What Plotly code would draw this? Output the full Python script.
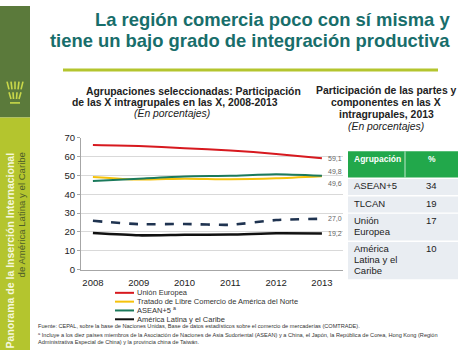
import plotly.graph_objects as go

W, H = 474, 355
FONT = "Liberation Sans, Arial, sans-serif"

# ---------------- data ----------------
years = [2008, 2009, 2010, 2011, 2012, 2013]
union_europea = [66.2, 65.7, 64.5, 63.3, 61.4, 59.1]
tlcan = [49.2, 47.8, 48.3, 48.0, 48.5, 49.6]
asean5 = [47.0, 48.3, 49.5, 49.8, 50.6, 49.8]
alc_dashed = [25.9, 24.1, 24.2, 23.8, 26.3, 27.0]
alc = [19.4, 18.2, 18.5, 18.6, 19.3, 19.2]

series_names = ["Unión Europea", "Tratado de Libre Comercio de América del Norte",
                "ASEAN+5 <sup>a</sup>", "", "América Latina y el Caribe"]
series_values = [union_europea, tlcan, asean5, alc_dashed, alc]
series_colors = ["#d7191f", "#f5c20c", "#1b7a5c", "#1f3350", "#111111"]
series_dash = ["solid", "solid", "solid", "dash", "solid"]
series_width = [2, 2, 2, 2.6, 2.6]
end_labels = ["59,1", "49,6", "49,8", "27,0", "19,2"]
end_label_shift = [0, -7, 4, 0, 0]
legend_order = [0, 1, 2, 4]

y_ticks = [0, 10, 20, 30, 40, 50, 60, 70]

table_header = ["Agrupación", "%"]
table_groups = ["ASEAN+5", "TLCAN", "Unión<br>Europea", "América<br>Latina y el<br>Caribe"]
table_pct = [34, 19, 17, 10]


def px_x(x):
    return x / W


def px_y(y):
    return 1 - y / H


fig = go.Figure()

for i, vals in enumerate(series_values):
    fig.add_trace(go.Scatter(
        x=years, y=vals, mode="lines", name=series_names[i] or "Serie",
        line=dict(color=series_colors[i], width=series_width[i],
                  dash=series_dash[i], shape="spline", smoothing=0.6),
        showlegend=False, hoverinfo="skip"))

annotations = []
shapes = []

# end-of-line labels
for i, vals in enumerate(series_values):
    annotations.append(dict(
        x=years[-1], y=vals[-1], xref="x", yref="y", text=end_labels[i],
        showarrow=False, xanchor="left", yanchor="middle", xshift=4,
        yshift=end_label_shift[i], font=dict(family=FONT, size=7, color="#666666")))

# sidebar
shapes.append(dict(type="rect", xref="paper", yref="paper", x0=0, x1=px_x(30),
                   y0=px_y(115), y1=1, fillcolor="#5b7a3b", line=dict(width=0), layer="below"))
shapes.append(dict(type="rect", xref="paper", yref="paper", x0=0, x1=px_x(30),
                   y0=0, y1=px_y(115), fillcolor="#b4c52e", line=dict(width=0), layer="below"))
# small wheat-like logo
for (xa, xb) in [(7, 9), (11, 12), (15, 15), (19, 18), (23, 21)]:
    shapes.append(dict(type="line", xref="paper", yref="paper",
                       x0=px_x(xa), y0=px_y(78), x1=px_x(xb), y1=px_y(86),
                       line=dict(color="#c9d84a", width=1.6)))
for (xa, xb) in [(9, 11), (13, 13.5), (17, 16.5), (21, 19)]:
    shapes.append(dict(type="line", xref="paper", yref="paper",
                       x0=px_x(xa), y0=px_y(89), x1=px_x(xb), y1=px_y(96),
                       line=dict(color="#c9d84a", width=1.6)))
shapes.append(dict(type="line", xref="paper", yref="paper",
                   x0=px_x(10), y0=px_y(100), x1=px_x(20), y1=px_y(100),
                   line=dict(color="#c9d84a", width=1.6)))
annotations.append(dict(x=px_x(10), y=px_y(149), xref="paper", yref="paper",
                        text="<b>Panorama de la Inserción Internacional</b>", textangle=-90,
                        showarrow=False, xanchor="center", yanchor="top",
                        font=dict(family=FONT, size=10.5, color="#f4f7dc")))
annotations.append(dict(x=px_x(21.5), y=px_y(149), xref="paper", yref="paper",
                        text="de América Latina y el Caribe", textangle=-90,
                        showarrow=False, xanchor="center", yanchor="top",
                        font=dict(family=FONT, size=9.6, color="#4f5f2a")))

# top rule
shapes.append(dict(type="line", xref="paper", yref="paper", x0=px_x(63), x1=px_x(438),
                   y0=px_y(66), y1=px_y(66), line=dict(color="#b4c52e", width=3)))

# main title
for txt, y in [("La región comercia poco con sí misma y", 14),
               ("tiene un bajo grado de integración productiva", 36)]:
    annotations.append(dict(x=px_x(452), y=px_y(y), xref="paper", yref="paper",
                            text=f"<b>{txt}</b>", showarrow=False, xanchor="right",
                            yanchor="middle", font=dict(family=FONT, size=18.4, color="#186e6b")))

# left chart title
for txt, x, y in [("<b>Agrupaciones seleccionadas: Participación</b>", 193, 88),
                  ("<b>de las X intragrupales en las X, 2008-2013</b>", 175, 100),
                  ("<i>(En porcentajes)</i>", 172, 111)]:
    annotations.append(dict(x=px_x(x), y=px_y(y), xref="paper", yref="paper", text=txt,
                            showarrow=False, xanchor="center", yanchor="middle",
                            font=dict(family=FONT, size=10.4, color="#222222")))

# right title
for txt, y in [("<b>Participación de las partes y</b>", 87),
               ("<b>componentes en las X</b>", 100),
               ("<b>intragrupales, 2013</b>", 112),
               ("<i>(En porcentajes)</i>", 124)]:
    annotations.append(dict(x=px_x(386), y=px_y(y), xref="paper", yref="paper", text=txt,
                            showarrow=False, xanchor="center", yanchor="middle",
                            font=dict(family=FONT, size=10.4, color="#222222")))

# manual legend
for row, idx in enumerate(legend_order):
    yy = 296 + 9.1 * row
    shapes.append(dict(type="line", xref="paper", yref="paper", x0=px_x(115), x1=px_x(134),
                       y0=px_y(yy), y1=px_y(yy),
                       line=dict(color=series_colors[idx], width=2)))
    annotations.append(dict(x=px_x(135), y=px_y(yy), xref="paper", yref="paper",
                            text=series_names[idx], showarrow=False, xanchor="left",
                            yanchor="middle", font=dict(family=FONT, size=7.5, color="#333333")))

# footnotes
for txt, y in [("Fuente: CEPAL, sobre la base de Naciones Unidas, Base de datos estadísticos sobre el comercio de mercaderías (COMTRADE).", 330),
               ("<sup>a</sup> Incluye a los diez países miembros de la Asociación de Naciones de Asia Sudoriental (ASEAN) y a China, el Japón, la República de Corea, Hong Kong (Región", 339),
               ("Administrativa Especial de China) y la provincia china de Taiwán.", 347)]:
    annotations.append(dict(x=px_x(36), y=px_y(y), xref="paper", yref="paper", text=txt,
                            showarrow=False, xanchor="left", yanchor="middle",
                            font=dict(family=FONT, size=5.6, color="#333333")))

# table (built from table_header / table_groups / table_pct)
TX0, TX1, TXM = 348, 458, 405
T_TOP, HEAD_H, LINE_H, PAD = 150, 27, 11, 6
shapes.append(dict(type="rect", xref="paper", yref="paper", x0=px_x(TX0), x1=px_x(TX1),
                   y0=px_y(T_TOP + HEAD_H), y1=px_y(T_TOP), fillcolor="#22a84b",
                   line=dict(width=0)))
shapes.append(dict(type="line", xref="paper", yref="paper", x0=px_x(TXM), x1=px_x(TXM),
                   y0=px_y(T_TOP + HEAD_H), y1=px_y(T_TOP), line=dict(color="#bfe8cc", width=1)))
annotations.append(dict(x=px_x(TX0 + 4), y=px_y(T_TOP + 8), xref="paper", yref="paper",
                        text=f"<b>{table_header[0]}</b>", showarrow=False, xanchor="left",
                        yanchor="middle", font=dict(family=FONT, size=8.5, color="white")))
annotations.append(dict(x=px_x((TXM + TX1) / 2), y=px_y(T_TOP + 8), xref="paper", yref="paper",
                        text=f"<b>{table_header[1]}</b>", showarrow=False, xanchor="center",
                        yanchor="middle", font=dict(family=FONT, size=8.5, color="white")))
row_top = T_TOP + HEAD_H
for grp, pct in zip(table_groups, table_pct):
    lines = grp.split("<br>")
    rh = LINE_H * len(lines) + PAD + 1
    shapes.append(dict(type="rect", xref="paper", yref="paper", x0=px_x(TX0), x1=px_x(TX1),
                       y0=px_y(row_top + rh), y1=px_y(row_top + 1.5), fillcolor="#e9edf2",
                       line=dict(width=0)))
    for k, ln in enumerate(lines):
        annotations.append(dict(x=px_x(TX0 + 4), y=px_y(row_top + 8.5 + LINE_H * k),
                                xref="paper", yref="paper", text=ln, showarrow=False,
                                xanchor="left", yanchor="middle",
                                font=dict(family=FONT, size=9.5, color="#222222")))
    annotations.append(dict(x=px_x((TXM + TX1) / 2), y=px_y(row_top + 8.5),
                            xref="paper", yref="paper", text=str(pct), showarrow=False,
                            xanchor="center", yanchor="middle",
                            font=dict(family=FONT, size=9.5, color="#222222")))
    row_top += rh

fig.update_layout(
    width=W, height=H, margin=dict(l=0, r=0, t=0, b=0),
    paper_bgcolor="white", plot_bgcolor="white",
    font=dict(family=FONT),
    annotations=annotations, shapes=shapes, showlegend=False,
    xaxis=dict(domain=[px_x(81), px_x(343)], range=[2007.74, 2013.46],
               tickvals=years, ticktext=[str(y) for y in years],
               showline=True, linecolor="#a6a6a6", linewidth=1, showgrid=False,
               ticks="", ticklabelstandoff=4,
               tickfont=dict(size=9.5, color="#222222"), zeroline=False),
    yaxis=dict(domain=[px_y(272), px_y(136)], range=[0, 70], tickvals=y_ticks,
               showline=True, linecolor="#a6a6a6", linewidth=1, gridcolor="#d9d9d9",
               ticks="outside", ticklen=3, tickcolor="#a6a6a6",
               tickfont=dict(size=9.5, color="#222222"), zeroline=False),
)

fig.write_html("out.html", config={"displayModeBar": False},
               post_script="document.body.style.margin='0px';")
